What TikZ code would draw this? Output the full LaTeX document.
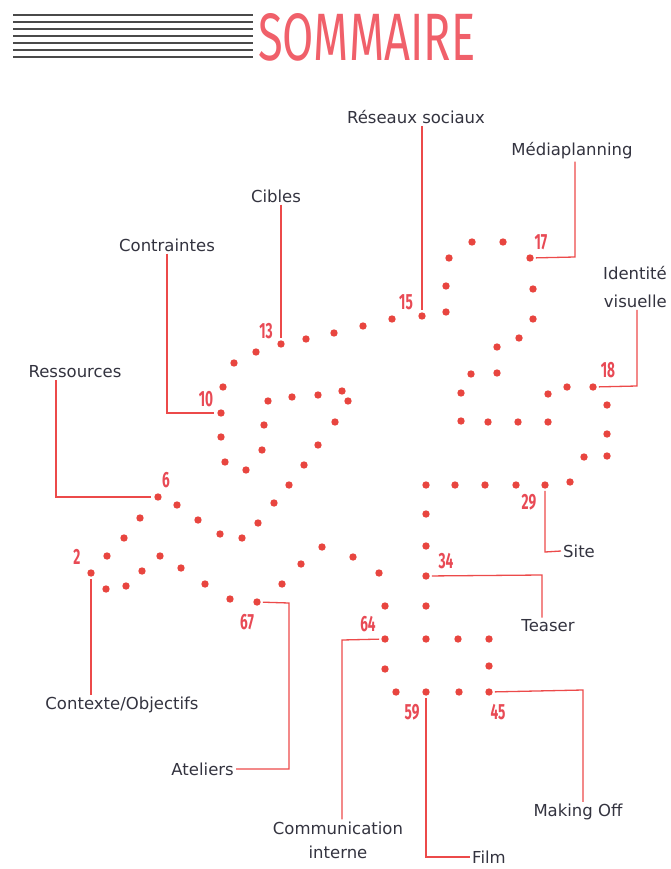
\documentclass[tikz,border=0pt]{standalone}
\usepackage{fontspec}
\setmainfont{DejaVu Sans}
\newfontfamily\numfont{Fira Sans}
\usepackage{graphicx}
\definecolor{dotred}{HTML}{E8453F}
\definecolor{linered}{HTML}{EC4A4A}
\definecolor{numred}{HTML}{E84A55}
\definecolor{titlered}{HTML}{F0606A}
\definecolor{labelgray}{HTML}{33333F}
\definecolor{rulegray}{HTML}{4A4A4A}
\begin{document}
\begin{tikzpicture}[x=1pt,y=-1pt]
\tikzset{
 dot/.style={circle,fill=dotred,inner sep=0pt,minimum size=7.4pt},
 lbl/.style={font=\fontsize{16.5}{20}\selectfont,text=labelgray,inner sep=2pt},
 num/.style={font=\fontsize{22}{22}\selectfont\numfont\bfseries,text=numred,inner sep=0pt},
 conn/.style={draw=linered,line width=1.3pt},
 rulestyle/.style={draw=rulegray,line width=1.2pt}
}
\useasboundingbox (0,0) rectangle (670,869);
% title
\foreach \yy in {15,22,29,36,43,50,57} \draw[rulestyle] (13,\yy) -- (253,\yy);
\node[inner sep=0pt,anchor=north west,text=titlered] (title) at (258,13) {\resizebox{217pt}{47pt}{\numfont SOMMAIRE}};
% numbered dots
\node[dot] (d2) at (91,573) {};
\node[dot] (d6) at (158,497) {};
\node[dot] (d10) at (221,413) {};
\node[dot] (d13) at (281,344) {};
\node[dot] (d15) at (422,316) {};
\node[dot] (d17) at (530,258) {};
\node[dot] (d18) at (593,387) {};
\node[dot] (d29) at (545,485) {};
\node[dot] (d34) at (426,576) {};
\node[dot] (d45) at (489,692) {};
\node[dot] (d59) at (426,692) {};
\node[dot] (d64) at (385,639) {};
\node[dot] (d67) at (257,602) {};
% other dots
\foreach \px/\py [count=\i] in {107/556,124/538,140/518,177/505,198/520,220/534,242/538,258/523,274/503,289/485,304/465,318/445,335/422,348/401,342/391,318/395,292/397,268/401,264/425,262/450,246/470,225/462,221/437,223/387,234/363,256/352,306/339,334/333,363/326,392/319,446/312,446/286,449/258,472/242,503/242,533/289,533/319,519/338,497/347,497/373,471/374,461/393,461/421,488/422,518/422,548/422,548/394,567/387,607/405,607/434,607/456,584/457,570/482,516/485,485/485,455/485,426/485,426/514,426/546,426/606,426/639,458/639,489/639,489/666,459/692,396/692,385/669,385/606,379/573,353/557,322/547,301/564,282/584,230/599,205/584,181/568,160/556,142/571,126/586,106/589}
  \node[dot] (p\i) at (\px,\py) {};
% number labels
\node[num] (n2) at (77,557) {\scalebox{0.62}[1]{2}};
\node[num] (n6) at (166,480) {\scalebox{0.62}[1]{6}};
\node[num] (n10) at (206,399) {\scalebox{0.62}[1]{10}};
\node[num] (n13) at (266,331) {\scalebox{0.62}[1]{13}};
\node[num] (n15) at (406,302) {\scalebox{0.62}[1]{15}};
\node[num] (n17) at (541,242) {\scalebox{0.62}[1]{17}};
\node[num] (n18) at (608,370) {\scalebox{0.62}[1]{18}};
\node[num] (n29) at (529,502) {\scalebox{0.62}[1]{29}};
\node[num] (n34) at (446,561) {\scalebox{0.62}[1]{34}};
\node[num] (n64) at (368,624) {\scalebox{0.62}[1]{64}};
\node[num] (n59) at (412,712) {\scalebox{0.62}[1]{59}};
\node[num] (n45) at (498,712) {\scalebox{0.62}[1]{45}};
\node[num] (n67) at (247,622) {\scalebox{0.62}[1]{67}};
% text labels
\node[lbl] (reseaux) at (416,117) {Réseaux sociaux};
\node[lbl] (media) at (572,151) {Médiaplanning};
\node[lbl] (cibles) at (276,196) {Cibles};
\node[lbl] (contraintes) at (167,245) {Contraintes};
\node[lbl] (ressources) at (75,372) {Ressources};
\node[lbl,align=right,anchor=east,font=\fontsize{16.5}{28}\selectfont] (identite) at (669,287) {Identité\\visuelle};
\node[lbl,anchor=west] (site) at (561,551) {Site};
\node[lbl] (teaser) at (548,626) {Teaser};
\node[lbl] (contexte) at (122,705) {Contexte/Objectifs};
\node[lbl,anchor=east] (ateliers) at (236,769) {Ateliers};
\node[lbl,align=center,font=\fontsize{16.5}{24}\selectfont] (comm) at (338,840) {Communication\\interne};
\node[lbl,anchor=west] (film) at (470,857) {Film};
\node[lbl] (making) at (578,812) {Making Off};
% corner coordinates
\coordinate (cMedia) at (575,257);
\coordinate (cRess) at (56,497);
\coordinate (cIdent) at (637,386);
\coordinate (cSite) at (545,552);
\coordinate (cTeaser) at (542,575);
\coordinate (cAtel1) at (289,603);
\coordinate (cAtel2) at (289,769);
\coordinate (cComm) at (342,640);
\coordinate (cFilm) at (426,857);
\coordinate (cMaking) at (583,690);
% connectors
\draw[conn,shorten >=2pt] (reseaux.south -| d15) -- (d15);
\draw[conn,shorten >=2pt] (cibles.south -| d13) -- (d13);
\draw[conn,shorten >=2pt] (media.south -| cMedia) -- (cMedia) -- (d17);
\draw[conn,shorten >=3pt] (contraintes.south) -- (contraintes.south |- d10) -- (d10);
\draw[conn,shorten >=3pt] (ressources.south -| cRess) -- (cRess) -- (d6);
\draw[conn,shorten >=2pt] (identite.south -| cIdent) -- (cIdent) -- (d18);
\draw[conn,shorten <=2pt] (d29) -- (cSite) -- (site.west);
\draw[conn,shorten <=2pt] (d34) -- (cTeaser) -- (teaser.north -| cTeaser);
\draw[conn,shorten <=2pt] (d2) -- (contexte.north -| d2);
\draw[conn,shorten <=2pt] (d67) -- (cAtel1) -- (cAtel2) -- (ateliers.east);
\draw[conn,shorten <=2pt] (d64) -- (cComm) -- (comm.north -| cComm);
\draw[conn,shorten <=2pt] (d59) -- (cFilm) -- (film.west);
\draw[conn,shorten <=2pt] (d45) -- (cMaking) -- (making.north -| cMaking);
\end{tikzpicture}
\end{document}
